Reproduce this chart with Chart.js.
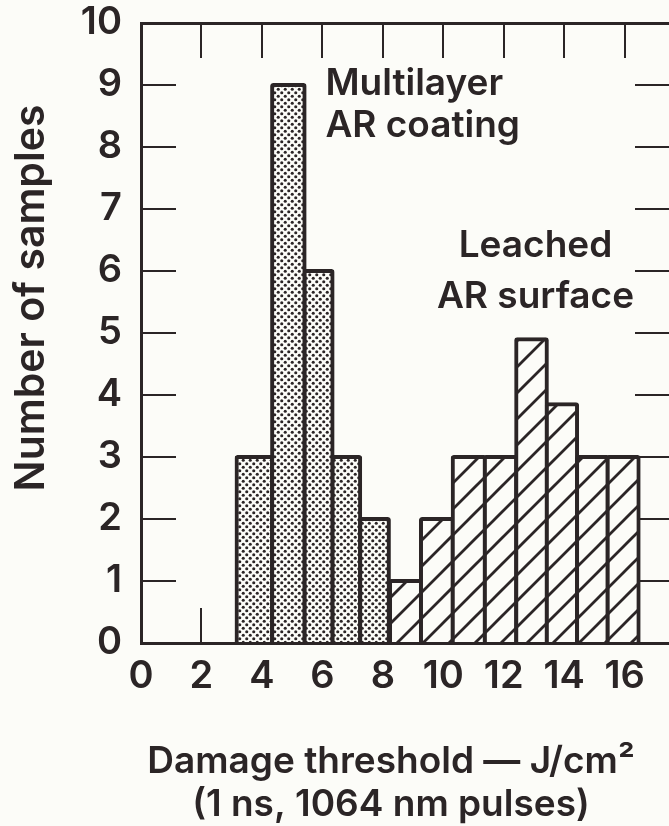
<!DOCTYPE html>
<html>
<head>
<meta charset="utf-8">
<script src="https://cdn.jsdelivr.net/npm/chart.js@4.4.1/dist/chart.umd.min.js"></script>
<style>
  html, body { margin: 0; padding: 0; background: #fcfcf8; overflow: hidden; }
  #wrap { width: 669px; height: 826px; overflow: hidden; }
  canvas { display: block; }
</style>
</head>
<body>
<div id="wrap"><canvas id="chart" width="782" height="826"></canvas></div>
<script>
// bin edges (J/cm2) and counts
const multiEdges  = [3.1, 4.4, 5.45, 6.35, 7.2, 8.25];
const multiCounts = [3, 9, 6, 3, 2];
const leachEdges  = [8.25, 9.25, 10.3, 11.4, 12.4, 13.45, 14.4, 15.45, 16.45];
const leachCounts = [1, 2, 3, 3, 4.9, 3.85, 3, 3];

const xTicks = [0, 2, 4, 6, 8, 10, 12, 14, 16];
const yTicks = [0, 1, 2, 3, 4, 5, 6, 7, 8, 9, 10];

// in-plot labels, anchored in data units (baseline)
const noteLines = ['Multilayer', 'AR coating', 'Leached', 'AR surface'];
const noteX     = [6.1, 6.1, 13.05, 13.05];
const noteY     = [8.84, 8.16, 6.23, 5.40];
const noteAlign = ['left', 'left', 'center', 'center'];

const xTitle = ['Damage threshold \u2014 J/cm\u00b2', '(1 ns, 1064 nm pulses)'];
const yTitle = 'Number of samples';

const INK = '#2b2526';
const PAPER = '#fcfcf8';
const FONT = "Inter, 'Liberation Sans', Arial, sans-serif";

function dotPattern(){
  const c = document.createElement('canvas'); c.width = 7; c.height = 7;
  const g = c.getContext('2d');
  g.fillStyle = PAPER; g.fillRect(0, 0, 7, 7);
  g.fillStyle = INK;
  [[1.75, 1.75], [5.25, 5.25]].forEach(([px, py]) => { g.beginPath(); g.arc(px, py, 1.55, 0, Math.PI * 2); g.fill(); });
  return g.createPattern(c, 'repeat');
}
function hatchPattern(){
  const s = 26;
  const c = document.createElement('canvas'); c.width = s; c.height = s;
  const g = c.getContext('2d');
  g.fillStyle = PAPER; g.fillRect(0, 0, s, s);
  g.strokeStyle = INK; g.lineWidth = 2.8;
  g.beginPath();
  g.moveTo(-2, s + 2); g.lineTo(s + 2, -2);
  g.moveTo(-2, 2); g.lineTo(2, -2);
  g.moveTo(s - 2, s + 2); g.lineTo(s + 2, s - 2);
  g.stroke();
  return g.createPattern(c, 'repeat');
}

// bar centres from the edges; 'flex' thickness puts the bar sides half way between centres
function toPoints(edges, counts){
  return counts.map((v, i) => ({ x: (edges[i] + edges[i + 1]) / 2, y: v }));
}

// labels inside the plot + both axis titles (the x title sits left of the plot centre in the original)
const freeText = {
  id: 'freeText',
  afterDraw(chart){
    const { ctx, scales: { x, y } } = chart;
    ctx.save();
    ctx.fillStyle = INK;
    ctx.font = `600 37px ${FONT}`;
    ctx.textBaseline = 'alphabetic';
    noteLines.forEach((t, i) => {
      ctx.textAlign = noteAlign[i];
      ctx.fillText(t, x.getPixelForValue(noteX[i]), y.getPixelForValue(noteY[i]));
    });
    ctx.textAlign = 'center';
    ctx.textBaseline = 'middle';
    ctx.fillText(xTitle[0], 391, 761.5);
    ctx.fillText(xTitle[1], 391, 804.5);
    ctx.font = `600 41px ${FONT}`;
    ctx.translate(32, 298);
    ctx.rotate(-Math.PI / 2);
    ctx.fillText(yTitle, 0, 0);
    ctx.restore();
  }
};

const tickFont = { family: FONT, size: 38, weight: '600' };
const setX = s => { s.ticks = xTicks.map(v => ({ value: v })); };
const setY = s => { s.ticks = yTicks.map(v => ({ value: v })); };
// fixed axis box sizes, no extra label padding around the plot
const fixSize = (w, h) => s => {
  if (w !== null) s.width = w;
  if (h !== null) s.height = h;
  s.paddingLeft = s.paddingRight = s.paddingTop = s.paddingBottom = 0;
};
const axisGrid = { display: true, drawOnChartArea: false, drawTicks: true, tickLength: -35, color: INK, lineWidth: 2, offset: false };
const axisBorder = { display: true, color: INK, width: 3, z: 1 };

const barStyle = {
  borderColor: INK,
  borderWidth: 4,
  inflateAmount: 2,
  borderRadius: 3,
  borderSkipped: 'start',
  barThickness: 'flex',
  barPercentage: 1,
  categoryPercentage: 1,
  stack: 'hist'
};

new Chart(document.getElementById('chart'), {
  type: 'bar',
  data: {
    datasets: [
      Object.assign({ label: 'Multilayer AR coating', data: toPoints(multiEdges, multiCounts), backgroundColor: dotPattern() }, barStyle),
      Object.assign({ label: 'Leached AR surface', data: toPoints(leachEdges, leachCounts), backgroundColor: hatchPattern() }, barStyle)
    ]
  },
  options: {
    responsive: false,
    animation: false,
    layout: { padding: { left: 80, right: 112, top: 23, bottom: 127 } },
    plugins: {
      legend: { display: false },
      tooltip: { enabled: false }
    },
    scales: {
      x: {
        type: 'linear', position: 'bottom', min: 0, max: 17.5, offset: false,
        afterBuildTicks: setX, afterFit: fixSize(null, 56),
        grid: axisGrid, border: axisBorder,
        ticks: { color: INK, font: tickFont, padding: 46, autoSkip: false, maxRotation: 0 }
      },
      x2: {
        type: 'linear', axis: 'x', position: 'top', min: 0, max: 17.5, offset: false,
        afterBuildTicks: setX, afterFit: fixSize(null, 0),
        grid: axisGrid, border: axisBorder,
        ticks: { display: false }
      },
      y: {
        type: 'linear', position: 'left', min: 0, max: 10,
        afterBuildTicks: setY, afterFit: fixSize(61, null),
        grid: axisGrid, border: axisBorder,
        ticks: { color: INK, font: tickFont, padding: 54, autoSkip: false }
      },
      y2: {
        type: 'linear', axis: 'y', position: 'right', min: 0, max: 10,
        afterBuildTicks: setY, afterFit: fixSize(0, null),
        grid: axisGrid, border: axisBorder,
        ticks: { display: false }
      }
    }
  },
  plugins: [freeText]
});
</script>
</body>
</html>
